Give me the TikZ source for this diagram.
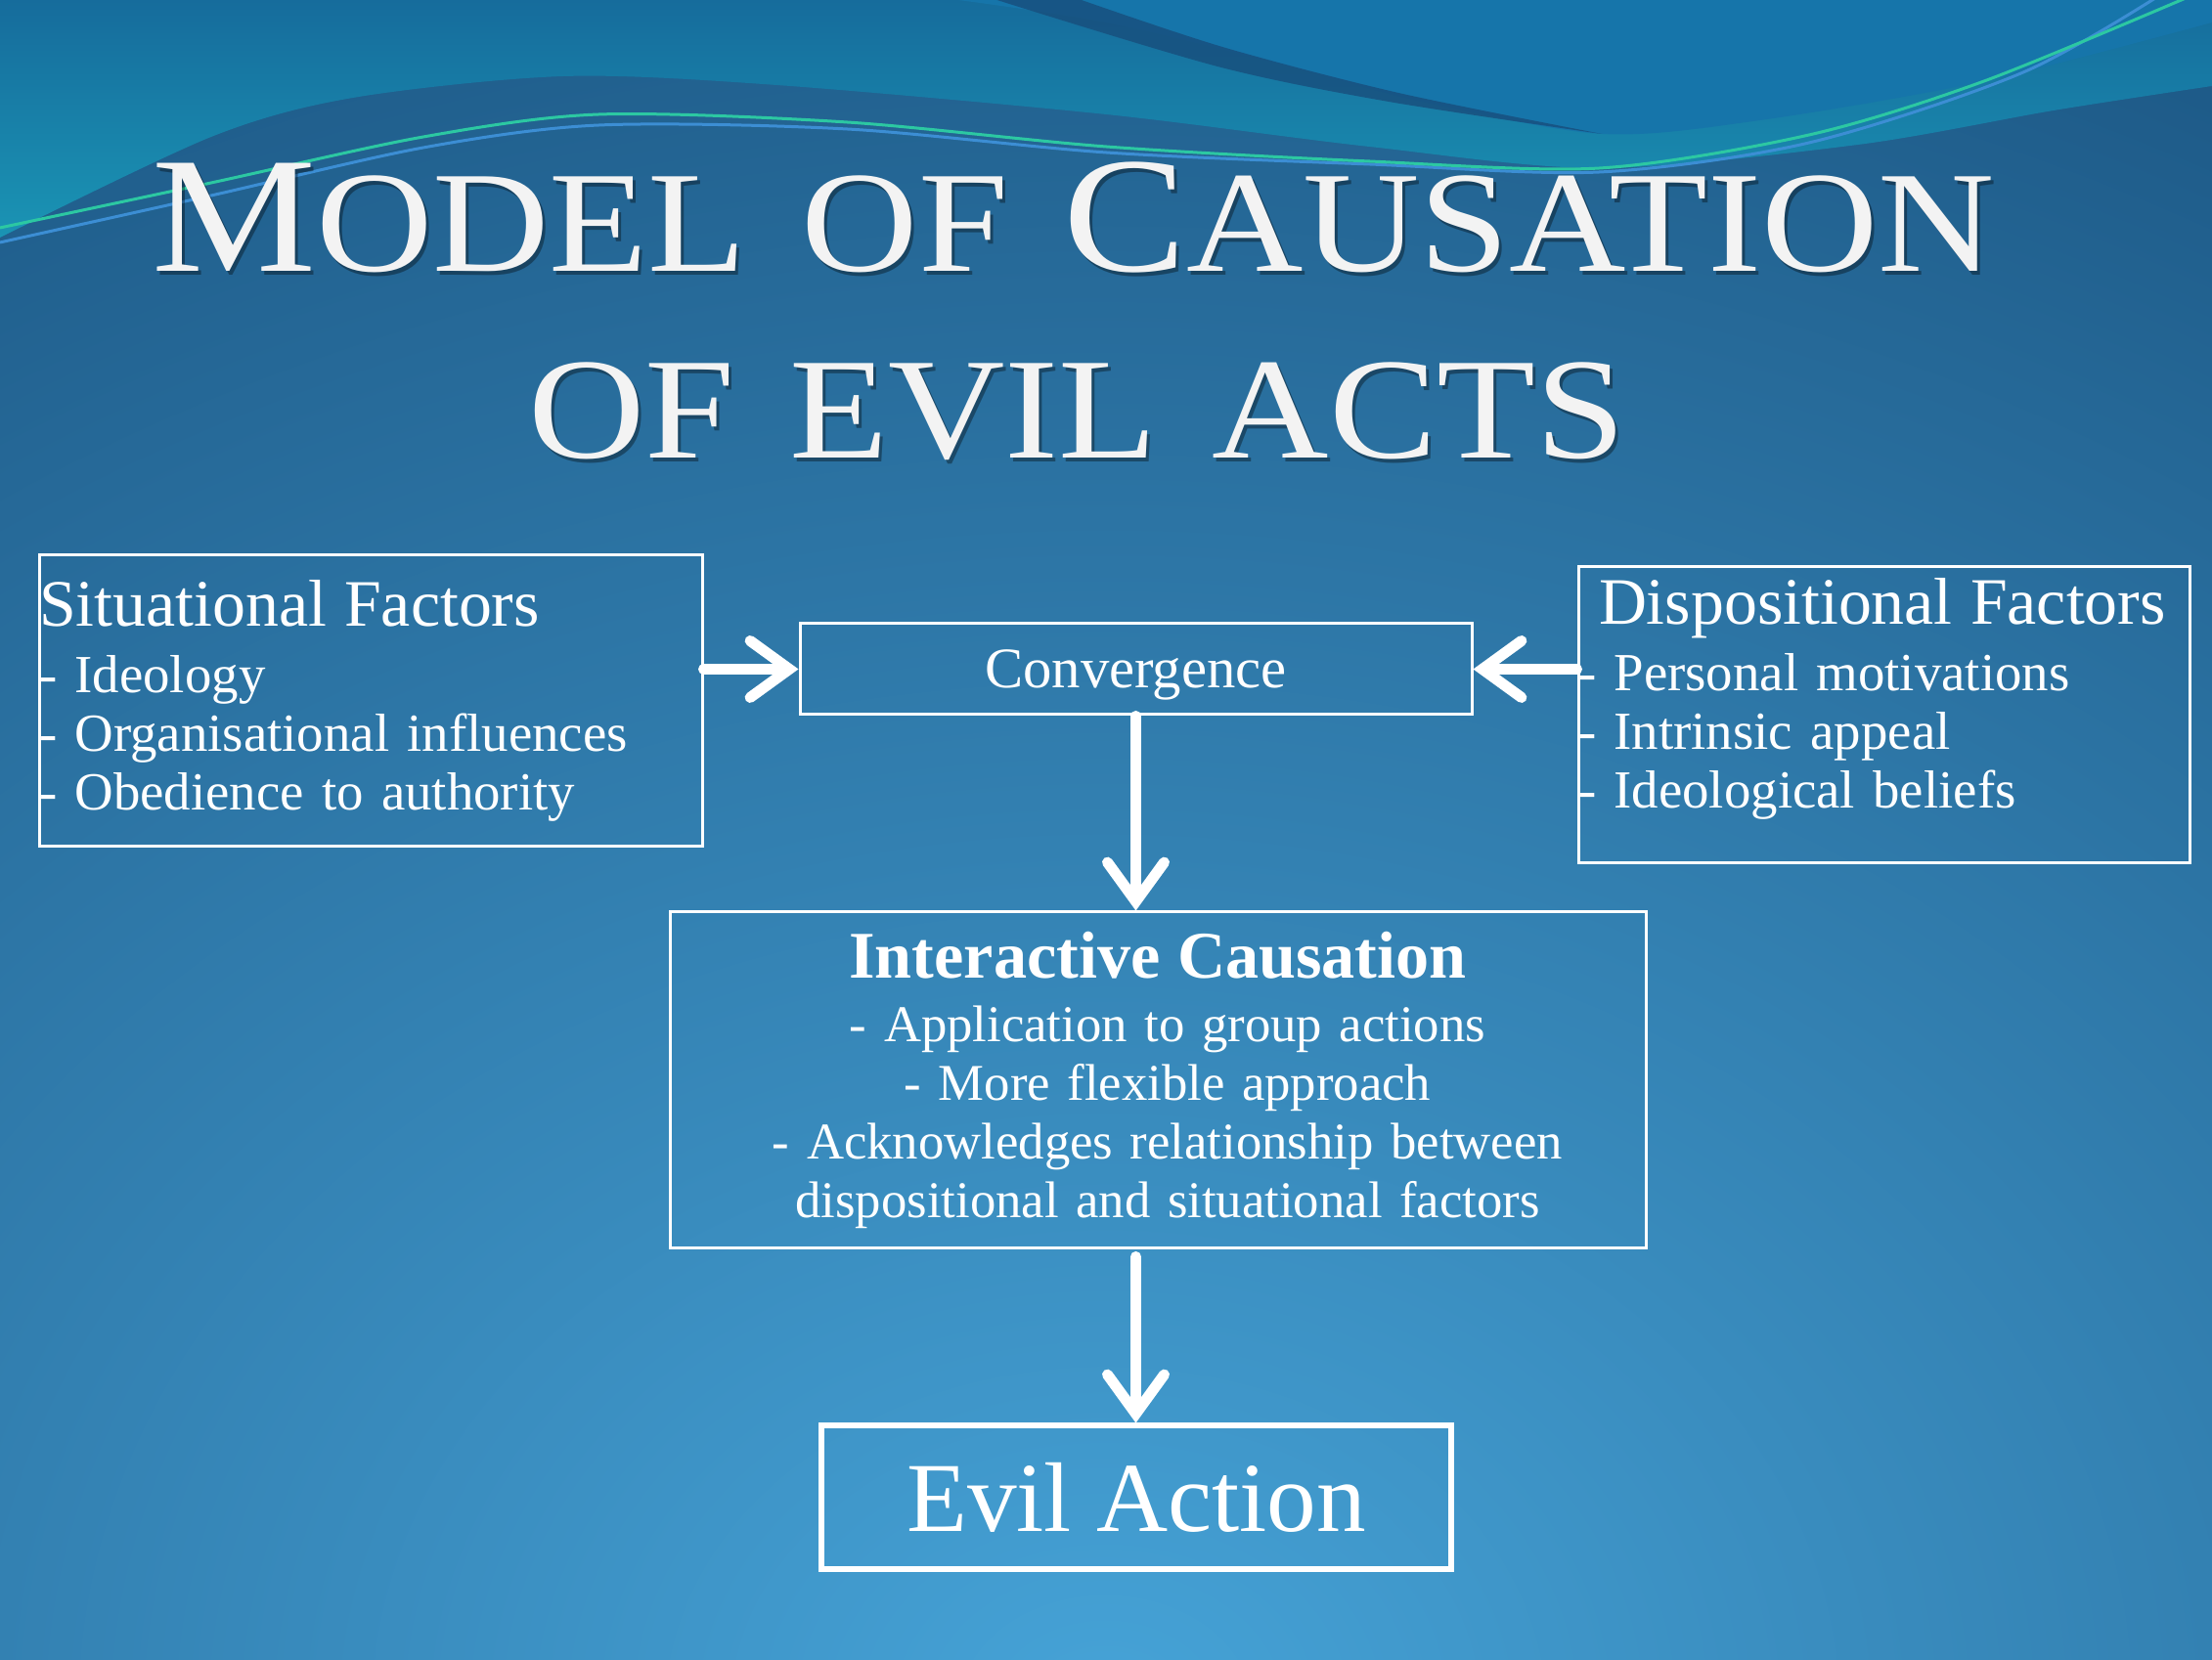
\documentclass[tikz,border=0pt]{standalone}
\usepackage{fontspec}
\setmainfont{Liberation Serif}
\usepackage{tikz}
\usetikzlibrary{arrows.meta,positioning}

\definecolor{bgdark}{HTML}{19527F}
\definecolor{bglight}{HTML}{46A3D7}
\definecolor{waveteal}{HTML}{1A94B4}
\definecolor{wavetop}{HTML}{166C9C}
\definecolor{wavemid}{HTML}{1675AA}
\definecolor{wavedark}{HTML}{184E7C}
\definecolor{wavegreen}{HTML}{2CC8A2}
\definecolor{waveblue}{HTML}{3C8ED4}
\definecolor{titlegrey}{HTML}{F3F3F3}

\newcommand{\headsize}{\fontsize{19.3}{20}\selectfont}
\newcommand{\itemsize}{\fontsize{15.6}{17.07}\selectfont}
\newcommand{\titlebig}[1]{{\fontsize{48}{50}\selectfont #1}}
\newcommand{\titlesmall}[1]{{\fontsize{42}{44}\selectfont #1}}
\newcommand{\titlegap}{\hspace{0.5cm}}

\begin{document}
\begin{tikzpicture}[node distance=1cm and 1cm,
		every node/.style={text=white},
		frame/.style={draw=white, line width=0.03cm, inner xsep=0pt, inner ysep=0pt},
		titletext/.style={text=titlegrey, inner sep=0pt, xscale=1.12},
		flow/.style={draw=white, line width=0.11cm, line cap=round,
			-{Straight Barb[length=0.4cm, width=0.58cm, line cap=round]}}]
	\useasboundingbox (0,0) rectangle (22.62,16.98);
	% background
	\fill[bgdark] (0,0) rectangle (22.62,16.98);
	\begin{scope}
		\clip (0,0) rectangle (22.62,16.98);
		\shade[inner color=bglight, outer color=bgdark] (11.3,-0.5) ellipse (27cm and 21cm);
		\shade[top color=wavetop, bottom color=waveteal] (0,16.98) -- plot[smooth] coordinates {(0,14.55) (2.16,15.58) (3.61,15.98) (5.77,16.2) (7.94,16.11) (11.31,15.81) (14,15.48) (16.36,15.26) (19,15.5) (21,15.85) (22.62,16.1)} -- (22.62,16.98) -- cycle;
		\fill[wavemid] (9.8,16.98) -- plot[smooth] coordinates {(9.8,16.98) (11.31,16.75) (13,16.35) (14.5,15.95) (16.38,15.61) (18,15.75) (20.29,16.15) (22.62,16.75)} -- (22.62,16.98) -- cycle;
		\fill[wavedark, opacity=0.8] plot[smooth] coordinates {(11,17) (12.5,16.5) (14.3,16.03) (16.38,15.61)} -- plot[smooth] coordinates {(16.38,15.61) (14.2,15.94) (12.45,16.3) (10.13,17)} -- cycle;
		\draw[waveblue, line width=0.03cm] plot[smooth] coordinates {(0,14.5) (2.16,14.98) (4.33,15.47) (6.13,15.7) (8.66,15.66) (11.31,15.42) (14,15.3) (16.36,15.22) (18.5,15.52) (20.69,16.24) (22.2,17.1)};
		\draw[wavegreen, line width=0.03cm] plot[smooth] coordinates {(0,14.65) (2.16,15.11) (4.33,15.58) (6.13,15.81) (8.66,15.73) (11.31,15.48) (14,15.33) (16.36,15.26) (18.5,15.6) (20.29,16.15) (22.47,17.05)};
	\end{scope}

	% title
	\node[titletext, text=black, opacity=0.35, anchor=base] (title1shadow) at (11.005,14.165) {\titlebig{M}\titlesmall{ODEL}\titlegap\titlesmall{OF}\titlegap\titlebig{C}\titlesmall{AUSATION}};
	\node[titletext, anchor=base] (title1) at (10.975,14.2) {\titlebig{M}\titlesmall{ODEL}\titlegap\titlesmall{OF}\titlegap\titlebig{C}\titlesmall{AUSATION}};
	\node[titletext, text=black, opacity=0.35, anchor=base] (title2shadow) at (11.045,12.255) {\titlesmall{OF}\titlegap\titlesmall{EVIL}\titlegap\titlesmall{ACTS}};
	\node[titletext, anchor=base] (title2) at (11.015,12.29) {\titlesmall{OF}\titlegap\titlesmall{EVIL}\titlegap\titlesmall{ACTS}};

	% boxes
	\node[frame, minimum width=6.87cm, minimum height=0.93cm, text depth=0.5pt, font=\fontsize{16.7}{18}\selectfont] (conv) at (11.615,10.135) {Convergence};
	\node[frame, left=0.97cm of conv, yshift=-0.325cm, text width=6.78cm, minimum height=2.98cm, align=left, font=\itemsize] (sit) {{\headsize Situational Factors}\\[2.3pt]
		- Ideology\\
		- Organisational influences\\
		- Obedience to authority};
	\node[frame, right=1.06cm of conv, yshift=-0.47cm, text width=6.25cm, minimum height=3.03cm, text depth=2.34cm, align=left, font=\itemsize] (disp) {\hspace*{0.21cm}{\headsize Dispositional Factors}\\[2.3pt]
		- Personal motivations\\
		- Intrinsic appeal\\
		- Ideological beliefs};
	\node[frame, below=1.99cm of conv, xshift=0.225cm, text width=9.98cm, minimum height=3.44cm, align=center, font=\fontsize{15}{17.07}\selectfont] (inter) {{\bfseries\fontsize{19.4}{20}\selectfont Interactive Causation}\\[1.4pt]
		\hspace*{0.2cm}- Application to group actions\\
		\hspace*{0.2cm}- More flexible approach\\
		\hspace*{0.2cm}- Acknowledges relationship between\\
		\hspace*{0.2cm}dispositional and situational factors};
	\node[frame, line width=0.06cm, below=1.77cm of inter, xshift=-0.22cm, minimum width=6.44cm, minimum height=1.47cm, font=\fontsize{28.8}{30}\selectfont] (evil) {Evil Action};

	% arrows
	\draw[flow] (sit.east |- conv.west) -- (conv.west);
	\draw[flow] (disp.west |- conv.east) -- (conv.east);
	\draw[flow] (conv.south) -- (conv.south |- inter.north);
	\draw[flow] ([yshift=-0.07cm]conv.south |- inter.south) -- (conv.south |- evil.north);
\end{tikzpicture}
\end{document}
